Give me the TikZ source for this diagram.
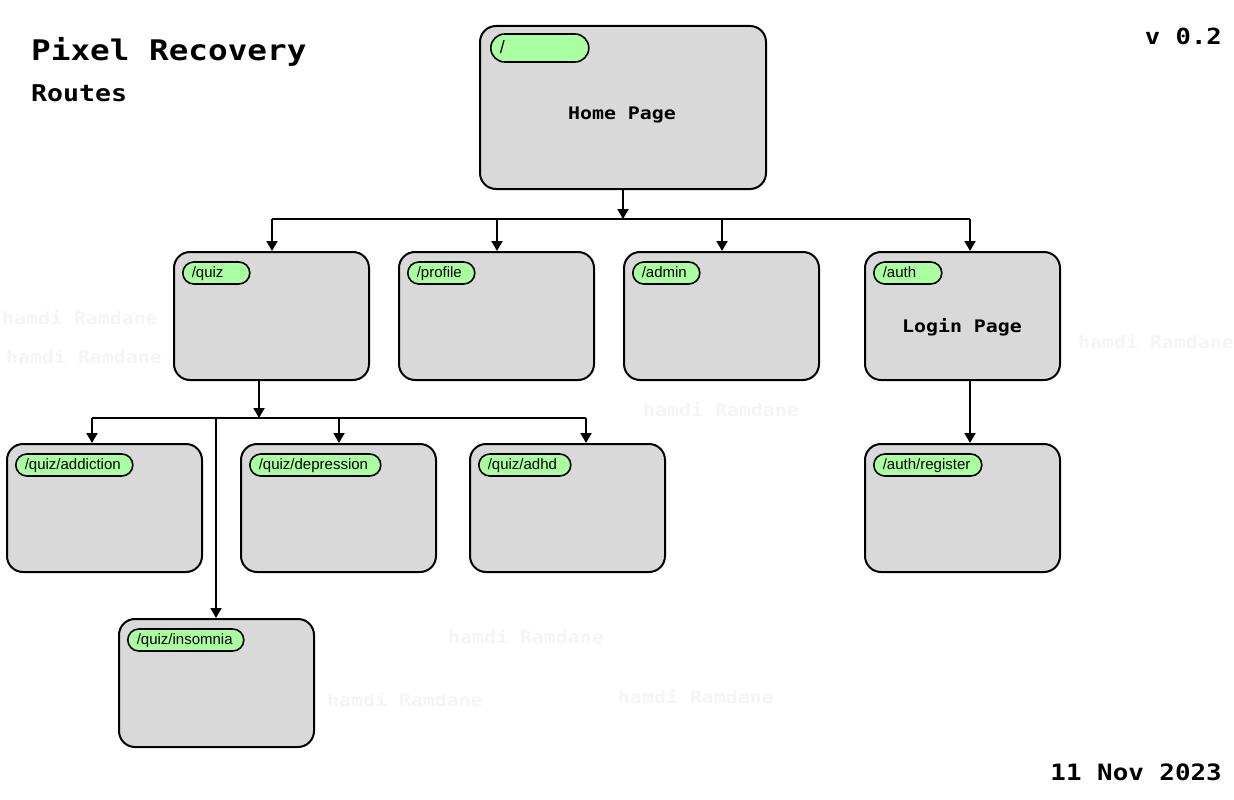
\documentclass[tikz,border=0pt]{standalone}
\usepackage{fontspec}
\setmainfont{Liberation Sans}
\newfontfamily\pix{DejaVu Sans Mono}[FakeStretch=1.15]
\usetikzlibrary{arrows.meta}
\definecolor{boxgray}{HTML}{D9D9D9}
\definecolor{pillgreen}{HTML}{AAFFA0}
\definecolor{wm}{HTML}{F5F5F5}
\newcommand\pilltxt[2]{\makebox[#1][l]{#2}}
\tikzset{
  box/.style={draw=black, line width=2pt, fill=boxgray, rounded corners=16pt,
    minimum width=195pt, minimum height=128pt, inner sep=0pt},
  pill/.style={draw=black, line width=1.6pt, fill=pillgreen, rounded corners=11pt,
    anchor=west, minimum height=22pt, inner ysep=0pt, inner xsep=9pt,
    text height=11.5pt, text depth=2pt, font=\fontsize{15}{16}\selectfont},
  wire/.style={line width=2pt},
  arr/.style={line width=2pt, -{Triangle[length=10pt,width=11pt]}},
  bigtxt/.style={font=\pix\bfseries\fontsize{#1}{#1}\selectfont, inner sep=0pt},
  wmark/.style={font=\pix\bfseries\fontsize{17.3}{18}\selectfont, text=wm, inner sep=0pt},
}
\begin{document}
\begin{tikzpicture}[x=1pt,y=-1pt]
\useasboundingbox[fill=white] (0,0) rectangle (1234,800);

% watermarks
\node[wmark] (w1) at (80,318) {hamdi Ramdane};
\node[wmark] (w2) at (84,357) {hamdi Ramdane};
\node[wmark] (w3) at (1156,342) {hamdi Ramdane};
\node[wmark] (w4) at (721,410) {hamdi Ramdane};
\node[wmark] (w5) at (526,637) {hamdi Ramdane};
\node[wmark] (w6) at (405,700) {hamdi Ramdane};
\node[wmark] (w7) at (696,697) {hamdi Ramdane};

% titles
\node[bigtxt=28.4, anchor=base west] (title) at (31,61) {Pixel Recovery};
\node[bigtxt=23.1, anchor=base west] (sub) at (31,101) {Routes};
\node[bigtxt=22.2, anchor=base east] (ver) at (1222,45) {v 0.2};
\node[bigtxt=22.5, anchor=base east] (date) at (1222,780) {11 Nov 2023};

% boxes
\node[box, minimum width=286pt, minimum height=163pt] (home) at (623,107.5) {};
\node[box] (quiz) at (271.5,316) {};
\node[box] (profile) at (496.5,316) {};
\node[box] (admin) at (721.5,316) {};
\node[box] (auth) at (962.5,316) {};
\node[box] (addiction) at (104.5,508) {};
\node[box] (depression) at (338.5,508) {};
\node[box] (adhd) at (567.5,508) {};
\node[box] (register) at (962.5,508) {};
\node[box] (insomnia) at (216.5,683) {};

\node[bigtxt=17.3] (homet) at (622,115) {Home Page};
\node[bigtxt=17.3] (logint) at (962,327) {Login Page};

% pills
\node[pill, minimum height=28pt, rounded corners=14pt, text height=13.5pt, text depth=2pt, font=\fontsize{18}{19}\selectfont] (p0) at (490,48) {\pilltxt{80pt}{/}};
\node[pill] (p1) at (182,273) {\pilltxt{49pt}{/quiz}};
\node[pill] (p2) at (407,273) {\pilltxt{49pt}{/profile}};
\node[pill] (p3) at (632,273) {\pilltxt{49pt}{/admin}};
\node[pill] (p4) at (873,273) {\pilltxt{50pt}{/auth}};
\node[pill] (p5) at (15,465) {\pilltxt{99pt}{/quiz/addiction}};
\node[pill] (p6) at (249,465) {\pilltxt{113pt}{/quiz/depression}};
\node[pill] (p7) at (478,465) {\pilltxt{74pt}{/quiz/adhd}};
\node[pill] (p8) at (873,465) {\pilltxt{90pt}{/auth/register}};
\node[pill] (p9) at (127,640) {\pilltxt{98pt}{/quiz/insomnia}};

% connectors level 1
\coordinate (h0) at (623,219);
\coordinate (b1) at (272,219);
\coordinate (b2) at (497,219);
\coordinate (b3) at (722,219);
\coordinate (b4) at (970,219);
\draw[arr] (home.south) -- (h0);
\draw[wire] (b1) -- (b4);
\draw[arr] (b1) -- (b1 |- quiz.north);
\draw[arr] (b2) -- (b2 |- profile.north);
\draw[arr] (b3) -- (b3 |- admin.north);
\draw[arr] (b4) -- (b4 |- auth.north);

% connectors level 2
\coordinate (q0) at (259,380);
\coordinate (q1) at (259,418);
\coordinate (c1) at (92,418);
\coordinate (c2) at (339,418);
\coordinate (c3) at (586,418);
\coordinate (c4) at (216,418);
\draw[arr] (q0) -- (q1);
\draw[wire] (c1) -- (c3);
\draw[arr] (c1) -- (c1 |- addiction.north);
\draw[arr] (c2) -- (c2 |- depression.north);
\draw[arr] (c3) -- (c3 |- adhd.north);
\draw[arr] (c4) -- (c4 |- insomnia.north);

% auth to register
\coordinate (a0) at (970,380);
\draw[arr] (a0) -- (a0 |- register.north);
\end{tikzpicture}
\end{document}
